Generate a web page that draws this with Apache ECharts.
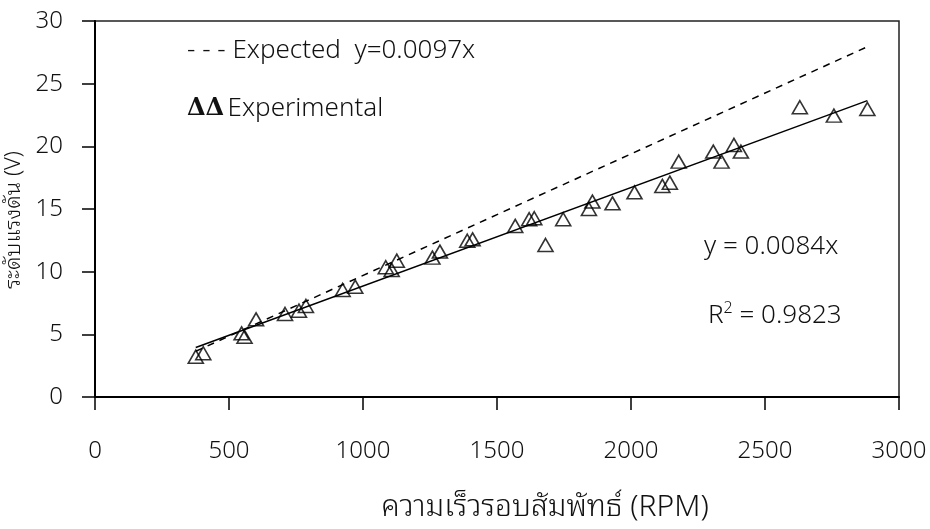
<!DOCTYPE html>
<html>
<head>
<meta charset="utf-8">
<script src="https://cdn.jsdelivr.net/npm/echarts@6/dist/echarts.min.js"></script>
<style>
html,body{margin:0;padding:0;background:#fff;}
#chart{width:930px;height:529px;}
</style>
</head>
<body>
<div id="chart"></div>
<script>
// Experimental measurements: relative speed (RPM) vs voltage (V)
const rpm = [376, 404, 547, 558, 601, 709, 761, 787, 924, 971, 1085, 1107, 1126, 1259, 1287, 1389, 1409,
             1568, 1620, 1639, 1681, 1747, 1843, 1856, 1931, 2013, 2117, 2145, 2178,
             2307, 2338, 2384, 2410, 2630, 2757, 2882];
const volt = [3.22, 3.49, 5.08, 4.81, 6.20, 6.62, 6.89, 7.26, 8.54, 8.80, 10.35, 10.14, 10.88, 11.12, 11.60, 12.47, 12.58,
              13.65, 14.18, 14.26, 12.13, 14.18, 15.00, 15.59, 15.45, 16.33, 16.84, 17.10, 18.78,
              19.58, 18.78, 20.11, 19.58, 23.12, 22.45, 22.98];
// Fitted trend line (as drawn) endpoints
const trendX = [376, 2882];
const trendY = [3.95, 23.65];
// Expected line y = 0.0097x endpoints
const expX = [376, 2882];
const expY = [3.65, 27.95];
// Axis ticks
const xTicks = {min: 0, max: 3000, step: 500};
const yTicks = {min: 0, max: 30, step: 5};
// Texts
const xTitle = 'ความเร็วรอบสัมพัทธ์ (RPM)';
const yTitle = 'ระดับแรงดัน (V)';
const expectedLabel = '- - - Expected  y=0.0097x';
const experimentalLabel = 'Experimental';
const eqLabel = 'y = 0.0084x';
const r2Value = ' = 0.9823';

const FONT = '"Noto Sans", "Open Sans", sans-serif';
const THAI = '"Noto Sans Thai Looped", "Noto Sans Thai", "Loma", "Garuda", "Noto Sans", sans-serif';
const chart = echarts.init(document.getElementById('chart'));
const zip = (a, b) => a.map((v, i) => [v, b[i]]);

chart.setOption({
  animation: false,
  backgroundColor: '#fff',
  textStyle: {fontFamily: FONT},
  grid: {left: 95, right: 31, top: 21, bottom: 132, show: true, borderColor: '#222', borderWidth: 1.5,
         containLabel: false, outerBoundsMode: 'none'},
  xAxis: {
    type: 'value', min: xTicks.min, max: xTicks.max, interval: xTicks.step,
    name: xTitle, nameLocation: 'middle', nameGap: 96,
    nameTextStyle: {fontSize: 30, color: '#111', fontFamily: THAI, fontWeight: 300, padding: [0, 0, 0, 96]},
    axisLine: {show: true, onZero: false, lineStyle: {color: '#000', width: 2}},
    axisTick: {show: true, inside: false, length: 13, lineStyle: {color: '#000', width: 1.5}},
    axisLabel: {margin: 42, fontSize: 24, color: '#111', fontFamily: FONT, fontWeight: 300, formatter: v => String(v)},
    splitLine: {show: false}
  },
  yAxis: {
    type: 'value', min: yTicks.min, max: yTicks.max, interval: yTicks.step,
    name: yTitle, nameLocation: 'middle', nameGap: 53, nameRotate: 90,
    nameTextStyle: {fontSize: 22, color: '#111', fontFamily: THAI, fontWeight: 300, padding: [0, 22, 0, 0]},
    axisLine: {show: true, onZero: false, lineStyle: {color: '#000', width: 2}},
    axisTick: {show: true, inside: false, length: 13, lineStyle: {color: '#000', width: 1.5}},
    axisLabel: {margin: 32, fontSize: 24, color: '#111', fontFamily: FONT, fontWeight: 300, formatter: v => String(v)},
    splitLine: {show: false}
  },
  series: [
    {
      type: 'line', data: zip(expX, expY), showSymbol: false, silent: true,
      lineStyle: {color: '#000', width: 1.5, type: [7, 6]}, z: 2
    },
    {
      type: 'line', data: zip(trendX, trendY), showSymbol: false, silent: true,
      lineStyle: {color: '#000', width: 1.5, type: 'solid'}, z: 2
    },
    {
      type: 'scatter', data: zip(rpm, volt), symbol: 'triangle', symbolSize: [15, 13],
      itemStyle: {color: 'rgba(255,255,255,0)', borderColor: '#000', borderWidth: 1.6}, z: 3
    }
  ],
  graphic: [
    {type: 'text', left: 187, top: 38, style: {text: expectedLabel, fontSize: 26, fill: '#111', fontFamily: FONT, fontWeight: 300}},
    {type: 'text', left: 187, top: 96, style: {
      text: '{d|ΔΔ} {t|' + experimentalLabel + '}',
      rich: {
        d: {fontSize: 24, fontFamily: '"DejaVu Serif", "Liberation Serif", serif', fill: '#111', fontWeight: 'bold'},
        t: {fontSize: 26, fill: '#111', fontFamily: FONT, fontWeight: 300}
      }
    }},
    {type: 'text', left: 704, top: 234, style: {text: eqLabel, fontSize: 26, fill: '#111', fontFamily: FONT, fontWeight: 300}},
    {type: 'text', left: 708, top: 300, style: {
      text: '{r|R}{s|2}{r|' + r2Value + '}',
      rich: {
        r: {fontSize: 26, fill: '#111', fontFamily: FONT, fontWeight: 300},
        s: {fontSize: 16, fill: '#111', fontFamily: FONT, fontWeight: 300, verticalAlign: 'top', padding: [0, 0, 16, 0]}
      }
    }}
  ]
});
</script>
</body>
</html>
